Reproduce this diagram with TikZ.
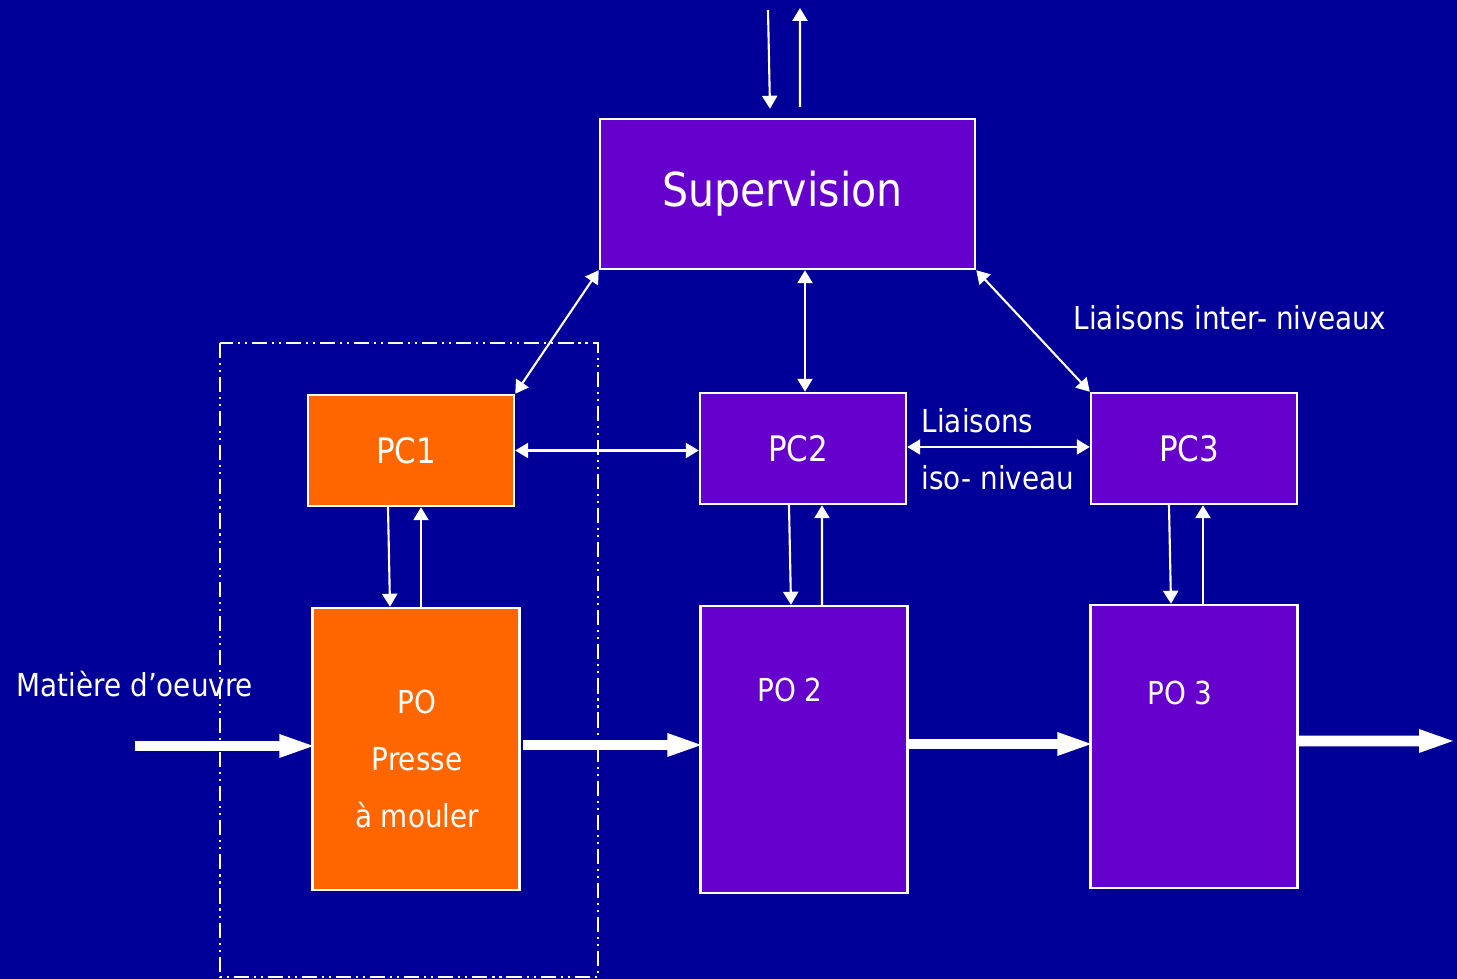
\documentclass[tikz,border=0pt]{standalone}
\usepackage{fontspec}
\setmainfont{DejaVu Sans}[FakeStretch=0.88]
\usetikzlibrary{arrows.meta}

\definecolor{fond}{RGB}{0,0,153}
\definecolor{violet}{RGB}{102,0,204}
\definecolor{orangepc}{RGB}{255,102,0}

\begin{document}
\begin{tikzpicture}[
    bloc/.style={draw=white,line width=0.7pt,text=white,inner sep=0pt},
    pc/.style={bloc,fill=violet,minimum width=2.06cm,minimum height=1.11cm,font=\fontsize{10}{12}\selectfont,
      execute at end node=\hspace*{0.1cm}},
    po/.style={bloc,fill=violet,minimum width=2.07cm,font=\fontsize{9}{11}\selectfont},
    lien/.style={white,line width=0.6pt,{Triangle[length=3.7pt,width=4.3pt]}-{Triangle[length=3.7pt,width=4.3pt]}},
    fil/.style={white,line width=0.6pt,-{Triangle[length=3.7pt,width=4.3pt]}},
    flux/.style={white,line width=3.1pt,-{Triangle[length=10.8pt,width=5.8pt]},shorten >=-0.06cm},
    etiq/.style={text=white,inner sep=0pt,font=\fontsize{9}{11}\selectfont}]
        \fill[fond] (0,0) rectangle (14.57,9.79);
        \useasboundingbox (0,0) rectangle (14.57,9.79);

        % zone PC1 / PO1
        \draw[white,line width=0.6pt,dash pattern=on 4.3pt off 1.4pt on 0.6pt off 1.4pt on 0.6pt off 1.4pt]
            (2.20,6.36) rectangle (5.98,0.02);

        \node[bloc,fill=violet,minimum width=3.75cm,minimum height=1.50cm,font=\fontsize{13.3}{16}\selectfont]
            (sup) at (7.875,7.85) {Supervision\hspace*{0.1cm}};
        \node[pc,fill=orangepc] (pc1) at (4.11,5.285) {PC1};
        \node[pc] (pc2) at (8.03,5.305) {PC2};
        \node[pc] (pc3) at (11.94,5.305) {PC3};
        \node[po,fill=orangepc,minimum height=2.82cm] (po1) at (4.16,2.30) {};
        \node[po,minimum height=2.87cm] (po2) at (8.04,2.295) {};
        \node[po,minimum height=2.83cm] (po3) at (11.94,2.325) {};

        \node[etiq,align=center,font=\fontsize{9}{16.2}\selectfont] (po1txt) at ([xshift=0.01cm,yshift=-0.10cm]po1.center)
            {PO\\Presse\\à mouler};
        \node[etiq] (po2txt) at ([xshift=-0.14cm,yshift=-0.85cm]po2.north) {PO 2};
        \node[etiq] (po3txt) at ([xshift=-0.14cm,yshift=-0.89cm]po3.north) {PO 3};

        \node[etiq,anchor=west] (matiere) at (0.16,2.95) {Matière d’oeuvre};
        \node[etiq,anchor=west] (inter) at (10.73,6.61) {Liaisons inter- niveaux};
        \node[etiq,anchor=west] (iso1) at (9.21,5.58) {Liaisons};
        \node[etiq,anchor=west] (iso2) at (9.21,5.01) {iso- niveau};

        % vers / depuis le niveau superieur
        \coordinate (haut1) at (7.68,9.69);
        \coordinate (haut2) at (8.00,9.71);
        \draw[fil] (haut1) -- ([xshift=-0.175cm,yshift=0.09cm]sup.north);
        \draw[fil] ([xshift=0.125cm,yshift=0.11cm]sup.north) -- (haut2);

        % liaisons inter-niveaux
        \draw[lien] (sup.south west) -- (pc1.north east);
        \draw[lien] ([xshift=0.175cm]sup.south) -- ([xshift=0.02cm]pc2.north);
        \draw[lien] (sup.south east) -- (pc3.north west);

        % liaisons iso-niveau
        \draw[lien] (pc1.east) -- (pc1.east -| pc2.west);
        \draw[lien] ([yshift=0.015cm]pc2.east) -- ([yshift=0.015cm]pc3.west);

        % PC -> PO et retour
        \draw[fil] ([xshift=-0.23cm]pc1.south) -- ([xshift=-0.26cm]po1.north);
        \draw[fil] ([xshift=0.05cm]po1.north) -- ([xshift=0.10cm]pc1.south);
        \draw[fil] ([xshift=-0.14cm]pc2.south) -- ([xshift=-0.13cm]po2.north);
        \draw[fil] ([xshift=0.18cm]po2.north) -- ([xshift=0.19cm]pc2.south);
        \draw[fil] ([xshift=-0.25cm]pc3.south) -- ([xshift=-0.23cm]po3.north);
        \draw[fil] ([xshift=0.09cm]po3.north) -- ([xshift=0.09cm]pc3.south);

        % flux matiere
        \coordinate (entree) at (1.35,2.33);
        \coordinate (sortie) at (14.51,2.38);
        \draw[flux] (entree) -- (entree -| po1.west);
        \draw[flux] ([xshift=0.02cm,yshift=0.04cm]po1.east) -- ([yshift=0.04cm]po1.east -| po2.west);
        \draw[flux] ([yshift=0.055cm]po2.east) -- ([yshift=0.055cm]po2.east -| po3.west);
        \draw[flux] ([yshift=0.055cm]po3.east) -- (sortie);
      \end{tikzpicture}
\end{document}
